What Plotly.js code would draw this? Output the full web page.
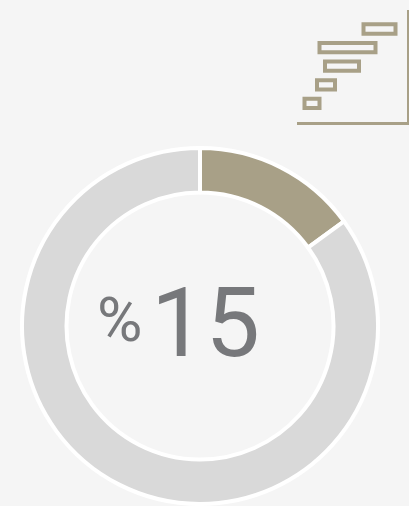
<!DOCTYPE html>
<html><head><meta charset="utf-8">
<script src="https://cdn.plot.ly/plotly-3.0.1.min.js"></script>
<style>html,body{margin:0;padding:0;background:#f5f5f5}</style></head>
<body><div id="chart" style="width:409px;height:506px"></div>
<script>
var sliceLabels = ['Share', 'Rest'];
var sliceValues = [15, 85];
var sliceColors = ['#a8a087', '#d9d9d9'];
var ganttRows = [0, 1, 2, 3, 4];
var ganttStart = [7.5, 20, 28, 22.5, 66.5];
var ganttLength = [15, 18, 34, 56, 32];
var valueText = '15';
var unitText = '%';
var W = 409, H = 506;
var accent = '#a8a087', ink = '#77787b';

Plotly.newPlot('chart', [
  {type:'pie', labels:sliceLabels, values:sliceValues, hole:0.75, sort:false, direction:'clockwise', rotation:0,
   textinfo:'none', hoverinfo:'skip', showlegend:false,
   marker:{colors:sliceColors, line:{color:'#ffffff', width:4}},
   domain:{x:[22/W,378/W], y:[2/H,358/H]}},
  {type:'bar', orientation:'h', y:ganttRows, x:ganttLength, base:ganttStart, width:0.5,
   marker:{color:'rgba(0,0,0,0)', line:{color:accent, width:4}}, hoverinfo:'skip', showlegend:false,
   xaxis:'x', yaxis:'y'}
], {
  width:W, height:H, margin:{l:0,r:0,t:0,b:0}, paper_bgcolor:'#f5f5f5', plot_bgcolor:'rgba(0,0,0,0)', showlegend:false,
  xaxis:{domain:[297/W,407/W], range:[0,110], showgrid:false, zeroline:false, showticklabels:false, ticks:'',
         showline:true, linecolor:accent, linewidth:3, side:'bottom'},
  yaxis:{domain:[(H-122)/H,(H-10)/H], range:[-1,5.02], showgrid:false, zeroline:false, showticklabels:false, ticks:'',
         showline:true, linecolor:accent, linewidth:2, side:'right', anchor:'x'},
  annotations:[
    {text:valueText, xref:'paper', yref:'paper', x:205/W, y:(H-323)/H, xanchor:'center', yanchor:'middle', showarrow:false,
     font:{family:'Roboto', size:97, color:ink, weight:400}},
    {text:unitText, xref:'paper', yref:'paper', x:119/W, y:(H-319)/H, xanchor:'center', yanchor:'middle', showarrow:false,
     font:{family:'Roboto', size:62, color:ink, weight:400}}
  ]
}, {displayModeBar:false, staticPlot:true});
</script></body></html>
